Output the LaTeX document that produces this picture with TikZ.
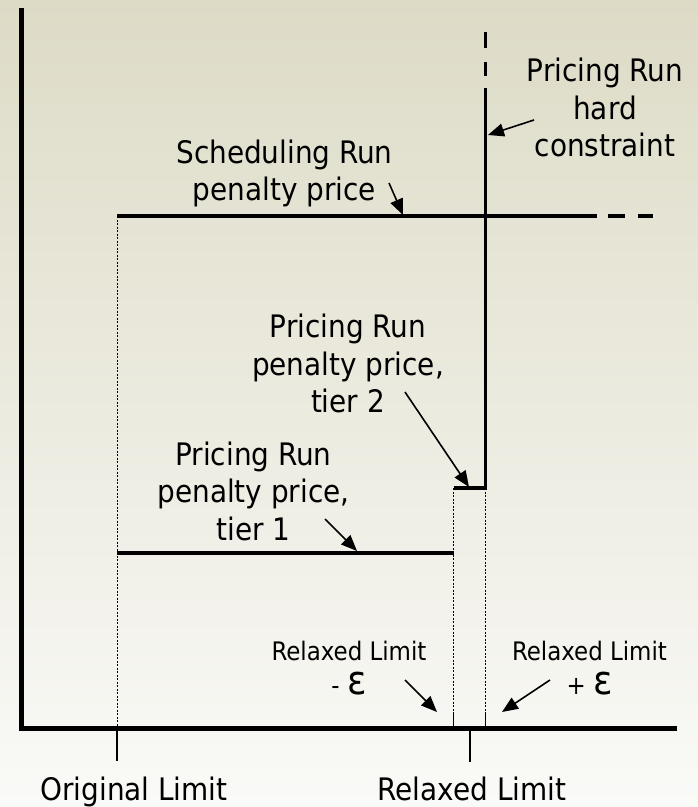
\documentclass[tikz,border=0pt]{standalone}
\usepackage{fontspec}
\setmainfont{DejaVu Sans Condensed}
\usetikzlibrary{arrows.meta}
\definecolor{bgtop}{RGB}{221,219,198}
\definecolor{bgmid}{RGB}{239,238,228}
\definecolor{bgbot}{RGB}{250,250,248}
\begin{document}
\begin{tikzpicture}[x=1pt,y=-1pt,
  lbl/.style={align=center, font=\fontsize{31}{37.5}\selectfont, inner sep=0pt},
  small/.style={align=center, font=\fontsize{25.5}{34}\selectfont, inner sep=0pt},
  eps/.style={font=\fontsize{40}{34}\selectfont},
  axisline/.style={line width=5pt, line join=miter},
  curve/.style={line width=3.6pt, line join=miter},
  tickline/.style={line width=1.3pt},
  guide/.style={line width=0.9pt, dash pattern=on 2pt off 1.5pt},
  pointer/.style={line width=1.6pt, -{Triangle[length=16pt,width=13pt]}},
]
\shade[top color=bgtop, middle color=bgmid, bottom color=bgbot] (0,0) rectangle (698,807);
\useasboundingbox (0,0) rectangle (698,807);

% axes
\coordinate (yTop) at (21.5,8);
\coordinate (origin) at (21.5,728);
\coordinate (xEnd) at (677,728);
\draw[axisline] (yTop) -- (origin) -- (xEnd);

% ticks
\coordinate (origA) at (117,728);
\coordinate (origB) at (117,761);
\coordinate (relA) at (470,728);
\coordinate (relB) at (470,762);
\coordinate (mA) at (453.5,712);
\coordinate (mB) at (453.5,728);
\coordinate (pA) at (485.5,712);
\coordinate (pB) at (485.5,728);
\draw[tickline] (origA) -- (origB);
\draw[tickline] (relA) -- (relB);
\draw[tickline] (mA) -- (mB);
\draw[tickline] (pA) -- (pB);

% guides
\coordinate (schedL) at (117,216);
\coordinate (tierOneL) at (117,553);
\coordinate (tierOneR) at (453.5,553);
\coordinate (tierTwoL) at (453.5,488);
\coordinate (tierTwoR) at (485.5,488);
\draw[guide] (schedL) -- (origA);
\draw[guide] (tierTwoL) -- (mA);
\draw[guide] (tierTwoR) -- (pA);

% price curves
\coordinate (schedR) at (597,216);
\draw[curve] (schedL) -- (schedR);
\coordinate (sd1a) at (608,216); \coordinate (sd1b) at (625,216);
\coordinate (sd2a) at (638,216); \coordinate (sd2b) at (653,216);
\draw[curve] (sd1a) -- (sd1b);
\draw[curve] (sd2a) -- (sd2b);
\draw[curve] (tierOneL) -- (tierOneR);
\coordinate (hardTop) at (485.5,88);
\draw[curve] (tierTwoL) -- (tierTwoR) -- (hardTop);
\coordinate (vd1a) at (485.5,62); \coordinate (vd1b) at (485.5,76);
\coordinate (vd2a) at (485.5,32); \coordinate (vd2b) at (485.5,48);
\draw[curve] (vd1a) -- (vd1b);
\draw[curve] (vd2a) -- (vd2b);

% labels
\node[lbl] (sched) at (284.5,173.4) {Scheduling Run\\penalty price};
\node[lbl] (hard) at (605,107.7) {Pricing Run\\hard\\constraint};
\node[lbl] (tier2) at (348,363.7) {Pricing Run\\penalty price,\\tier 2};
\node[lbl] (tier1) at (253.5,491.2) {Pricing Run\\penalty price,\\tier 1};
\node[lbl, anchor=base] (orig) at (134,800) {Original Limit};
\node[lbl, anchor=base] (relax) at (472,800) {Relaxed Limit};
\node[small] (rminus) at (349,668.3) {Relaxed Limit\\- {\fontsize{40}{34}\selectfont ε}};
\node[small] (rplus) at (589.5,668.3) {Relaxed Limit\\+ {\fontsize{40}{34}\selectfont ε}};

% pointers
\coordinate (a1s) at (389,183); \coordinate (a1e) at (403,215);
\coordinate (a2s) at (534,120); \coordinate (a2e) at (488,135);
\coordinate (a3s) at (405,392); \coordinate (a3e) at (469,487);
\coordinate (a4s) at (325,519); \coordinate (a4e) at (357,551);
\coordinate (a5s) at (405,680); \coordinate (a5e) at (437,712);
\coordinate (a6s) at (550,680); \coordinate (a6e) at (502,712);
\draw[pointer] (a1s) -- (a1e);
\draw[pointer] (a2s) -- (a2e);
\draw[pointer] (a3s) -- (a3e);
\draw[pointer] (a4s) -- (a4e);
\draw[pointer] (a5s) -- (a5e);
\draw[pointer] (a6s) -- (a6e);
\end{tikzpicture}
\end{document}
